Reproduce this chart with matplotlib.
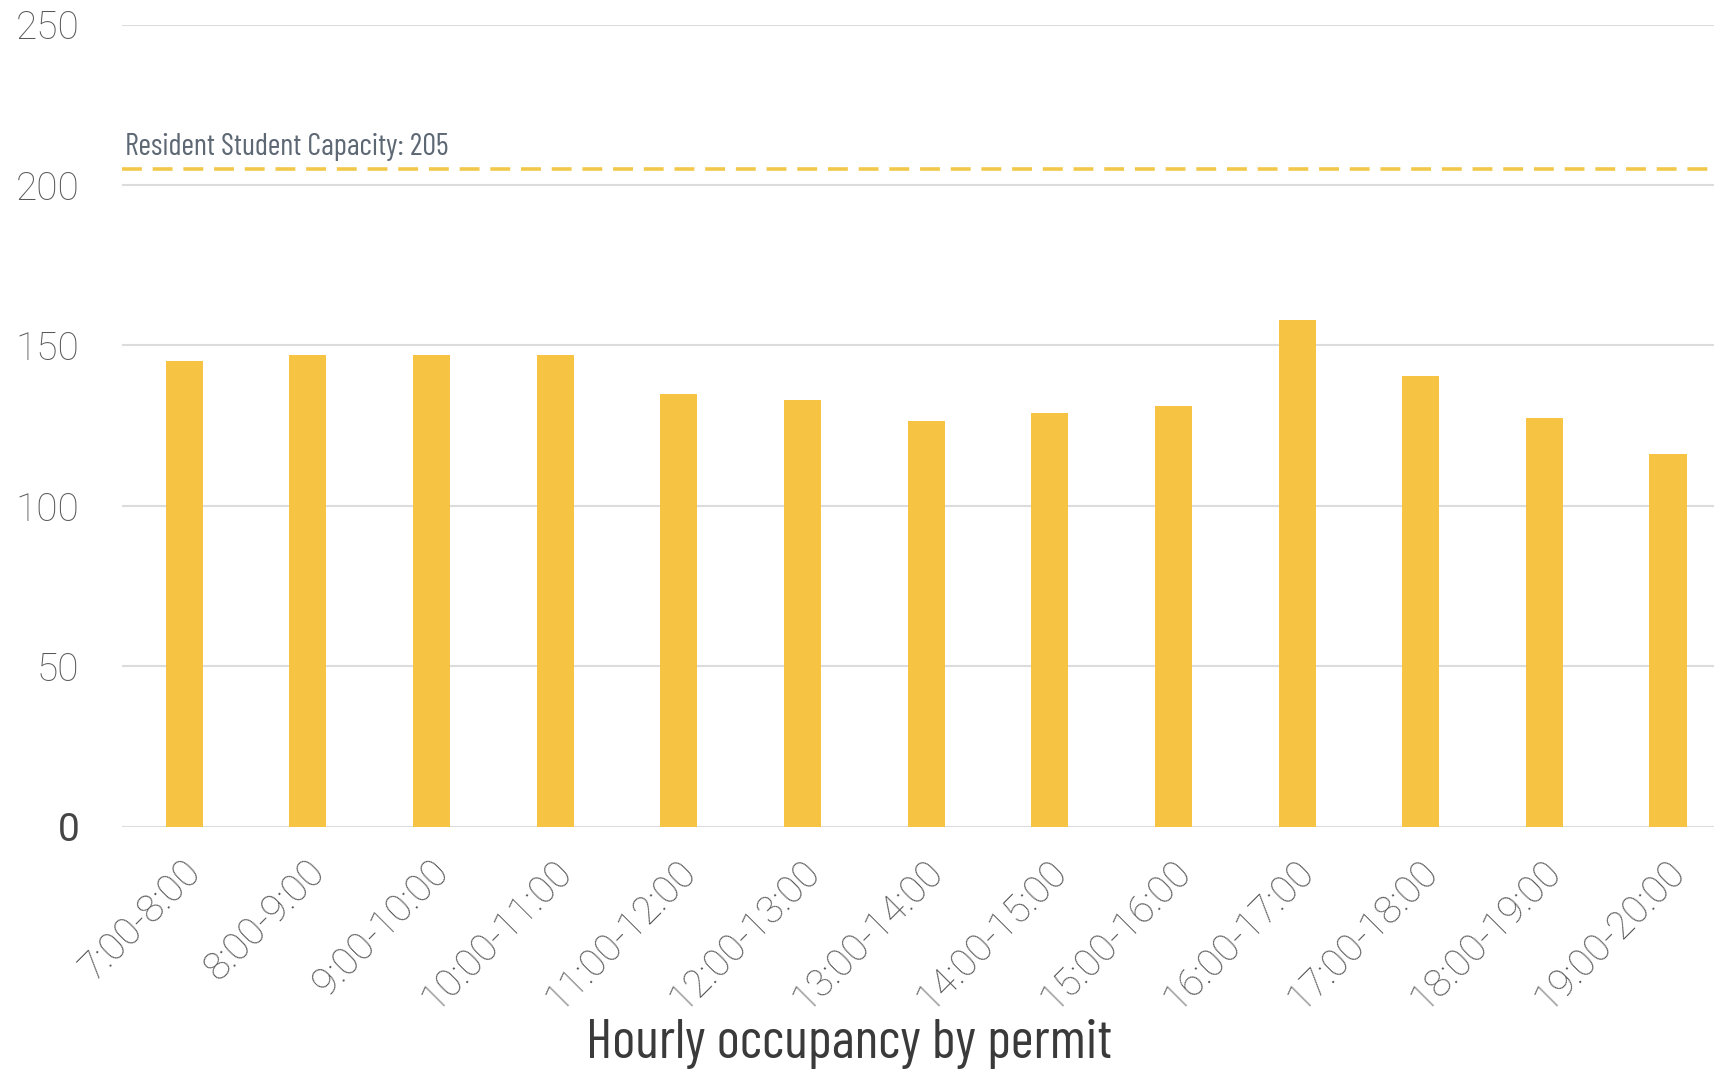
import matplotlib
matplotlib.use("Agg")
import matplotlib.pyplot as plt
from matplotlib.transforms import ScaledTranslation

hours = [
    "7:00-8:00", "8:00-9:00", "9:00-10:00", "10:00-11:00", "11:00-12:00",
    "12:00-13:00", "13:00-14:00", "14:00-15:00", "15:00-16:00", "16:00-17:00",
    "17:00-18:00", "18:00-19:00", "19:00-20:00",
]
occupancy = [145, 147, 147, 147, 135, 133, 126.5, 129, 131, 158, 140.5, 127.5, 116]
capacity = 205
capacity_label = "Resident Student Capacity: 205"
y_ticks = [0, 50, 100, 150, 200, 250]
title = "Hourly occupancy by permit"

BAR = "#F6C343"
GRID = "#dcdcdc"
THIN = ["Roboto", "DejaVu Sans"]
NARROW = ["Barlow Condensed", "Roboto Condensed", "DejaVu Sans"]

fig = plt.figure(figsize=(17.15, 10.7), dpi=100)
ax = fig.add_axes([0.0714, 0.2275, 0.9286, 0.7495])

x = list(range(len(hours)))
ax.bar(x, occupancy, width=0.3, color=BAR, zorder=3)

# capacity line + label
ax.axhline(capacity, color="#F2C84B", lw=2.6, dashes=(5.5, 3.0), zorder=4)
ax.annotate(capacity_label, xy=(-0.5, capacity), xytext=(1.5, 10),
            textcoords="offset points", ha="left", va="baseline",
            fontsize=22, color="#5d6874", family=NARROW)

ax.set_xlim(-0.5, 12.38)
ax.set_ylim(0, 250)
ax.set_yticks(y_ticks)
ax.yaxis.grid(True, color=GRID, lw=1.5, zorder=0)
ax.set_axisbelow(True)
for s in ax.spines.values():
    s.set_visible(False)
ax.tick_params(axis="both", length=0)
ax.tick_params(axis="y", pad=31)

ax.set_yticklabels([str(v) for v in y_ticks], fontsize=28, color="#585858",
                   family=THIN, fontweight="light")
ax.get_yticklabels()[0].set_color("#454545")
ax.get_yticklabels()[0].set_fontweight("normal")

ax.set_xticks(x)
ax.set_xticklabels(hours, rotation=45, ha="right", rotation_mode="anchor",
                   fontsize=28, color="#575757", family=THIN, fontweight="light")
ax.tick_params(axis="x", pad=19)
shift = ScaledTranslation(-0.02, 0, fig.dpi_scale_trans)
for lbl in ax.get_xticklabels():
    lbl.set_transform(lbl.get_transform() + shift)

fig.text(0.4948, 0.0115, title, ha="center", va="baseline", fontsize=40,
         color="#3a3a3a", family=NARROW)

fig.savefig("out.png", dpi=100, facecolor="white")
